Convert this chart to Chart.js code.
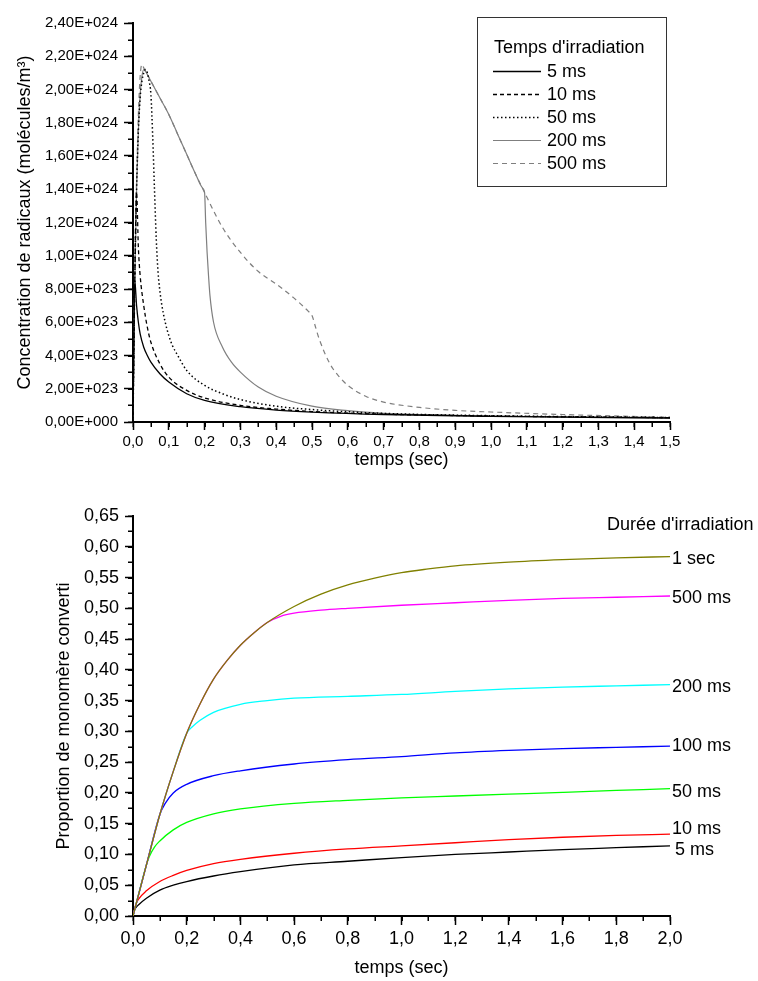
<!DOCTYPE html>
<html>
<head>
<meta charset="utf-8">
<script src="https://cdn.jsdelivr.net/npm/chart.js@4.4.1/dist/chart.umd.min.js"></script>
<style>
  body { margin: 0; background: #fff; }
  #topChart { position: absolute; left: 0; top: 0; }
  #bottomChart { position: absolute; left: 0; top: 478px; }
</style>
</head>
<body>
<canvas id="topChart" width="758" height="476"></canvas>
<canvas id="bottomChart" width="758" height="503"></canvas>
<script>
// ---------- top chart data : radical concentration, in units of 1E+024 molecules/m3 ----------
var topLabels = ['5 ms', '10 ms', '50 ms', '200 ms', '500 ms'];

var t5 = [0, 0.005, 0.01, 0.015, 0.02, 0.03, 0.04, 0.05, 0.075, 0.1, 0.15, 0.2, 0.3, 0.4, 0.5, 0.7, 1.0, 1.5];
var c5 = [0, 0.85, 0.7, 0.6, 0.53, 0.45, 0.4, 0.36, 0.29, 0.24, 0.17, 0.13, 0.092, 0.072, 0.06, 0.045, 0.034, 0.024];

var t10 = [0, 0.005, 0.01, 0.015, 0.02, 0.03, 0.04, 0.05, 0.075, 0.1, 0.15, 0.2, 0.3, 0.4, 0.5, 0.7, 1.0, 1.5];
var c10 = [0, 0.85, 1.38, 1.05, 0.88, 0.7, 0.57, 0.48, 0.35, 0.27, 0.19, 0.145, 0.1, 0.078, 0.063, 0.047, 0.036, 0.026];

var t50 = [0, 0.005, 0.01, 0.015, 0.02, 0.025, 0.03, 0.035, 0.04, 0.045, 0.05, 0.055, 0.06, 0.065, 0.07, 0.075, 0.08, 0.09, 0.1, 0.11, 0.125, 0.15, 0.2, 0.25, 0.3, 0.4, 0.5, 0.7, 1.0, 1.5];
var c50 = [0, 0.85, 1.4, 1.75, 1.95, 2.05, 2.1, 2.12, 2.1, 2.05, 1.97, 1.72, 1.4, 1.1, 0.9, 0.79, 0.71, 0.6, 0.52, 0.46, 0.4, 0.31, 0.22, 0.17, 0.135, 0.095, 0.075, 0.052, 0.038, 0.027];

var t200 = [0, 0.005, 0.01, 0.015, 0.02, 0.025, 0.03, 0.04, 0.05, 0.075, 0.1, 0.125, 0.15, 0.175, 0.195, 0.2, 0.203, 0.207, 0.211, 0.215, 0.225, 0.25, 0.275, 0.3, 0.35, 0.4, 0.5, 0.6, 0.7, 0.8, 1.0, 1.2, 1.5];
var c200 = [0, 0.85, 1.4, 1.75, 1.97, 2.08, 2.12, 2.09, 2.05, 1.95, 1.85, 1.73, 1.61, 1.49, 1.405, 1.38, 1.2, 1.02, 0.88, 0.76, 0.6, 0.45, 0.36, 0.3, 0.21, 0.155, 0.095, 0.068, 0.052, 0.045, 0.036, 0.03, 0.025];

var t500 = [0, 0.005, 0.01, 0.015, 0.02, 0.025, 0.03, 0.04, 0.05, 0.075, 0.1, 0.125, 0.15, 0.175, 0.2, 0.25, 0.3, 0.35, 0.4, 0.45, 0.49, 0.5, 0.51, 0.52, 0.55, 0.575, 0.6, 0.65, 0.7, 0.8, 0.9, 1.0, 1.2, 1.5];
var c500 = [0, 0.9, 1.45, 1.85, 2.08, 2.15, 2.13, 2.09, 2.05, 1.95, 1.85, 1.73, 1.61, 1.49, 1.38, 1.17, 1.02, 0.905, 0.83, 0.745, 0.665, 0.64, 0.57, 0.5, 0.35, 0.275, 0.22, 0.155, 0.12, 0.088, 0.07, 0.06, 0.045, 0.028];

// ---------- bottom chart data : fraction of monomer converted ----------
var bottomLabels = ['1 sec', '500 ms', '200 ms', '100 ms', '50 ms', '10 ms', '5 ms'];

var tB1000 = [0, 0.05, 0.1, 0.15, 0.2, 0.25, 0.3, 0.35, 0.4, 0.45, 0.5, 0.6, 0.7, 0.8, 0.9, 1.0, 1.1, 1.2, 1.4, 1.6, 1.8, 2.0];
var pB1000 = [0, 0.083, 0.165, 0.235, 0.297, 0.345, 0.385, 0.415, 0.44, 0.46, 0.477, 0.503, 0.523, 0.538, 0.549, 0.558, 0.564, 0.569, 0.575, 0.579, 0.582, 0.584];

var tB500 = [0, 0.05, 0.1, 0.15, 0.2, 0.25, 0.3, 0.35, 0.4, 0.45, 0.5, 0.55, 0.6, 0.7, 0.8, 1.0, 1.2, 1.4, 1.6, 1.8, 2.0];
var pB500 = [0, 0.083, 0.165, 0.235, 0.297, 0.345, 0.385, 0.415, 0.44, 0.46, 0.477, 0.487, 0.492, 0.497, 0.5, 0.505, 0.509, 0.513, 0.516, 0.518, 0.52];

var tB200 = [0, 0.05, 0.1, 0.15, 0.2, 0.22, 0.25, 0.3, 0.4, 0.5, 0.6, 0.8, 1.0, 1.2, 1.4, 1.6, 1.8, 2.0];
var pB200 = [0, 0.083, 0.165, 0.235, 0.297, 0.307, 0.318, 0.331, 0.344, 0.35, 0.354, 0.357, 0.36, 0.365, 0.369, 0.372, 0.374, 0.376];

var tB100 = [0, 0.05, 0.1, 0.12, 0.15, 0.2, 0.3, 0.4, 0.6, 0.8, 1.0, 1.2, 1.4, 1.6, 1.8, 2.0];
var pB100 = [0, 0.083, 0.165, 0.183, 0.2, 0.214, 0.228, 0.236, 0.247, 0.254, 0.259, 0.265, 0.269, 0.272, 0.274, 0.276];

var tB50 = [0, 0.05, 0.06, 0.08, 0.1, 0.15, 0.2, 0.3, 0.4, 0.6, 0.8, 1.0, 1.2, 1.4, 1.6, 1.8, 2.0];
var pB50 = [0, 0.083, 0.096, 0.112, 0.122, 0.14, 0.152, 0.166, 0.174, 0.183, 0.188, 0.192, 0.195, 0.198, 0.201, 0.204, 0.207];

var tB10 = [0, 0.01, 0.02, 0.05, 0.1, 0.15, 0.2, 0.3, 0.4, 0.6, 0.8, 1.0, 1.2, 1.4, 1.6, 1.8, 2.0];
var pB10 = [0, 0.018, 0.027, 0.041, 0.056, 0.066, 0.074, 0.085, 0.092, 0.102, 0.109, 0.114, 0.119, 0.124, 0.128, 0.131, 0.133];

var tB5 = [0, 0.005, 0.01, 0.02, 0.05, 0.1, 0.15, 0.2, 0.3, 0.4, 0.6, 0.8, 1.0, 1.2, 1.4, 1.6, 1.8, 2.0];
var pB5 = [0, 0.009, 0.013, 0.018, 0.029, 0.042, 0.05, 0.056, 0.065, 0.072, 0.083, 0.089, 0.095, 0.1, 0.104, 0.108, 0.111, 0.114];

var FONT = '"Liberation Sans", Arial, sans-serif';

// pair up x and y arrays for the linear x axis
function points(xs, ys, scale) {
    return xs.map(function (x, i) { return { x: x, y: ys[i] * (scale || 1) }; });
}

// 2.4E24 -> "2,40E+024"
function sciLabel(v) {
    if (v <= 0) return '0,00E+000';
    var e = Math.floor(Math.log10(v) + 1e-9);
    var m = v / Math.pow(10, e);
    if (m >= 9.995) { m = m / 10; e++; }
    return m.toFixed(2).replace('.', ',') + 'E+' + ('000' + e).slice(-3);
}

function comma(d) {
    return function (v) { return v.toFixed(d).replace('.', ','); };
}

// short minor ticks between the labelled ones
var minorTicks = {
    id: 'minorTicks',
    afterDraw: function (chart, args, o) {
        var ctx = chart.ctx, area = chart.chartArea;
        var xs = chart.scales.x, ys = chart.scales.y;
        ctx.save();
        ctx.strokeStyle = '#000';
        ctx.lineWidth = 1.5;
        ctx.beginPath();
        var n = Math.round((xs.max - xs.min) / o.x);
        for (var i = 0; i <= n; i++) {
            var px = Math.round(xs.getPixelForValue(xs.min + i * o.x)) + 0.25;
            ctx.moveTo(px, area.bottom);
            ctx.lineTo(px, area.bottom + o.len);
        }
        n = Math.round((ys.max - ys.min) / o.y);
        for (var j = 0; j <= n; j++) {
            var py = Math.round(ys.getPixelForValue(ys.min + j * o.y)) + 0.25;
            ctx.moveTo(area.left - o.len, py);
            ctx.lineTo(area.left, py);
        }
        ctx.stroke();
        ctx.restore();
    }
};

// boxed legend inside the top plot
var boxLegend = {
    id: 'boxLegend',
    afterDraw: function (chart, args, o) {
        var ctx = chart.ctx;
        ctx.save();
        ctx.strokeStyle = '#333';
        ctx.lineWidth = 1;
        ctx.strokeRect(o.x + 0.5, o.y + 0.5, o.w, o.h);
        ctx.fillStyle = '#000';
        ctx.font = o.font;
        ctx.textBaseline = 'middle';
        ctx.textAlign = 'left';
        ctx.fillText(o.title, o.titleX, o.titleY);
        chart.data.datasets.forEach(function (ds, i) {
            var y = Math.round(o.rowY + i * o.rowH) + 0.5;
            ctx.save();
            ctx.strokeStyle = ds.borderColor;
            ctx.lineWidth = ds.borderWidth;
            ctx.setLineDash(ds.borderDash || []);
            ctx.beginPath();
            ctx.moveTo(o.lineX0, y);
            ctx.lineTo(o.lineX1, y);
            ctx.stroke();
            ctx.restore();
            ctx.fillText(ds.label, o.textX, y + 1);
        });
        ctx.restore();
    }
};

// labels at the end of each curve in the bottom plot
var endLabels = {
    id: 'endLabels',
    afterDatasetsDraw: function (chart, args, o) {
        var ctx = chart.ctx;
        ctx.save();
        ctx.font = o.font;
        ctx.fillStyle = '#000';
        ctx.textBaseline = 'middle';
        ctx.textAlign = 'left';
        ctx.fillText(o.title, o.titleX, o.titleY);
        chart.data.datasets.forEach(function (ds, i) {
            var pts = chart.getDatasetMeta(i).data;
            var p = pts[pts.length - 1];
            ctx.fillText(ds.label, p.x + o.offsets[i][0], p.y + o.offsets[i][1]);
        });
        ctx.restore();
    }
};

function axisStyle(tickLen, labelPad, fontSize, cb) {
    return {
        type: 'linear',
        grid: { drawOnChartArea: false, drawTicks: true, tickLength: tickLen, color: '#000', tickWidth: 1.5 },
        border: { display: true, color: '#000', width: 2 },
        ticks: { color: '#000', font: { family: FONT, size: fontSize }, padding: labelPad, autoSkip: false, maxRotation: 0, callback: cb }
    };
}

// ---------- top chart ----------
var E24 = 1e24;
var topData = {
    datasets: [
        { label: topLabels[0], data: points(t5, c5, E24), borderColor: '#000', borderWidth: 1.3, borderDash: [] },
        { label: topLabels[1], data: points(t10, c10, E24), borderColor: '#000', borderWidth: 1.3, borderDash: [4, 3] },
        { label: topLabels[2], data: points(t50, c50, E24), borderColor: '#000', borderWidth: 1.5, borderDash: [1.5, 2.5] },
        { label: topLabels[3], data: points(t200, c200, E24), borderColor: '#7f7f7f', borderWidth: 1.2, borderDash: [] },
        { label: topLabels[4], data: points(t500, c500, E24), borderColor: '#7f7f7f', borderWidth: 1.2, borderDash: [5, 4] }
    ]
};

var topX = axisStyle(8, 3, 15, comma(1));
topX.min = 0; topX.max = 1.5; topX.ticks.stepSize = 0.1;
topX.title = { display: true, text: 'temps (sec)', color: '#000', font: { family: FONT, size: 18 }, padding: { top: 0, bottom: 5 } };
topX.afterFit = function (s) { s.height = 54; };

var topY = axisStyle(9, 6, 15, sciLabel);
topY.min = 0; topY.max = 2.4e24; topY.ticks.stepSize = 2e23;
topY.title = { display: true, text: 'Concentration de radicaux (molécules/m³)', color: '#000', font: { family: FONT, size: 18 }, padding: { top: 14, bottom: 0 } };
topY.afterFit = function (s) { s.width = 133; };

new Chart(document.getElementById('topChart'), {
    type: 'line',
    data: topData,
    plugins: [minorTicks, boxLegend],
    options: {
        responsive: false,
        animation: false,
        layout: { padding: { top: 23, right: 88, left: 0, bottom: 0 } },
        elements: { point: { radius: 0 }, line: { cubicInterpolationMode: 'monotone', fill: false } },
        plugins: {
            legend: { display: false },
            tooltip: { enabled: false },
            minorTicks: { x: 0.05, y: 1e23, len: 5 },
            boxLegend: {
                x: 477, y: 17, w: 189, h: 169,
                font: '18px ' + FONT, title: "Temps d'irradiation", titleX: 494, titleY: 48,
                rowY: 71, rowH: 23, lineX0: 493, lineX1: 541, textX: 547
            }
        },
        scales: { x: topX, y: topY }
    }
});

// ---------- bottom chart ----------
var bottomColors = ['#808000', '#ff00ff', '#00ffff', '#0000ff', '#00ff00', '#ff0000', '#000000'];
var bottomSeries = [
    points(tB1000, pB1000), points(tB500, pB500), points(tB200, pB200), points(tB100, pB100),
    points(tB50, pB50), points(tB10, pB10), points(tB5, pB5)
];

var bottomData = {
    datasets: bottomSeries.map(function (pts, i) {
        return { label: bottomLabels[i], data: pts, borderColor: bottomColors[i], borderWidth: 1.3 };
    })
};

var botX = axisStyle(9, 3, 18, comma(1));
botX.min = 0; botX.max = 2.0; botX.ticks.stepSize = 0.2;
botX.title = { display: true, text: 'temps (sec)', color: '#000', font: { family: FONT, size: 18 }, padding: { top: 0, bottom: 2 } };
botX.afterFit = function (s) { s.height = 65; };

var botY = axisStyle(8, 6, 18, comma(2));
botY.min = 0; botY.max = 0.65; botY.ticks.stepSize = 0.05;
botY.title = { display: true, text: 'Proportion de monomère converti', color: '#000', font: { family: FONT, size: 18 }, padding: { top: 53, bottom: 0 } };
botY.afterFit = function (s) { s.width = 133; };

new Chart(document.getElementById('bottomChart'), {
    type: 'line',
    data: bottomData,
    plugins: [minorTicks, endLabels],
    options: {
        responsive: false,
        animation: false,
        layout: { padding: { top: 38, right: 88, left: 0, bottom: 0 } },
        elements: { point: { radius: 0 }, line: { cubicInterpolationMode: 'monotone', fill: false } },
        plugins: {
            legend: { display: false },
            tooltip: { enabled: false },
            minorTicks: { x: 0.1, y: 0.025, len: 5 },
            endLabels: {
                font: '18px ' + FONT, title: "Durée d'irradiation", titleX: 607, titleY: 47,
                offsets: [[2, 2], [2, 2], [2, 2], [2, 0], [2, 3], [2, -5], [5, 4]]
            }
        },
        scales: { x: botX, y: botY }
    }
});
</script>
</body>
</html>
